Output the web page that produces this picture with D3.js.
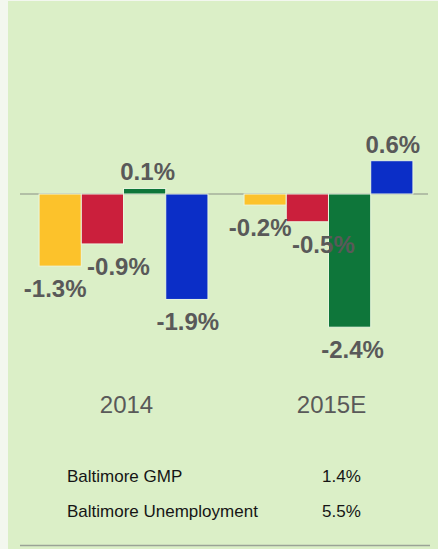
<!DOCTYPE html>
<html>
<head>
<meta charset="utf-8">
<script src="https://cdn.jsdelivr.net/npm/d3@7"></script>
<style>
  html, body { margin: 0; padding: 0; background: #f3f7ef; }
  svg { display: block; font-family: "Liberation Sans", Arial, sans-serif; }
</style>
</head>
<body>
<div id="chart"></div>
<script>
// chart data
var years = ["2014", "2015E"];
var series = ["s1", "s2", "s3", "s4"];
var values2014 = [-1.3, -0.9, 0.1, -1.9];
var values2015 = [-0.2, -0.5, -2.4, 0.6];
var colors = ["#fcc22b", "#cb1f3c", "#0e763a", "#0b2ec7"];
var tableLabels = ["Baltimore GMP", "Baltimore Unemployment"];
var tableValues = ["1.4%", "5.5%"];

var width = 438, height = 549;

var data = years.map(function(y, i) {
    var vals = i == 0 ? values2014 : values2015;
    return {year: y, vals: series.map(function(s, j) { return {key: s, value: vals[j], idx: j}; })};
});

// plain hyphen instead of d3's unicode minus
var fmt = d3.formatLocale({decimal: ".", thousands: ",", grouping: [3], currency: ["$", ""], minus: "-"}).format(".1f");

var svg = d3.select("#chart").append("svg")
    .attr("width", width)
    .attr("height", height);

// green panel
svg.append("rect")
    .attr("x", 8).attr("y", 1)
    .attr("width", width - 8).attr("height", height - 1)
    .attr("fill", "#dbefc7");

var x0 = d3.scaleBand()
    .domain(years)
    .range([20, 432])
    .paddingInner(0.176)
    .paddingOuter(0.093);

var x1 = d3.scaleBand()
    .domain(series)
    .range([0, x0.bandwidth()])
    .padding(0);

var y = d3.scaleLinear()
    .domain([-3, 1.5])
    .range([360.5, 110.75]);

// zero line
svg.append("line")
    .attr("x1", 20).attr("x2", 428)
    .attr("y1", y(0)).attr("y2", y(0))
    .attr("stroke", "#8a8f86")
    .attr("stroke-width", 1.2);

var group = svg.selectAll(".grp")
    .data(data)
  .enter().append("g")
    .attr("class", "grp")
    .attr("transform", function(d) { return "translate(" + x0(d.year) + ",0)"; });

group.selectAll("rect")
    .data(function(d) { return d.vals; })
  .enter().append("rect")
    .attr("x", function(d) { return x1(d.key); })
    .attr("width", x1.bandwidth())
    .attr("y", function(d) { return y(Math.max(0, d.value)); })
    .attr("height", function(d) { return Math.abs(y(d.value) - y(0)); })
    .attr("fill", function(d) { return colors[d.idx]; })
    .attr("stroke", "#e9f6df")
    .attr("stroke-width", 1);

// labels sit a little off the bar centre, like the hand-placed originals
var nudge = [-5, 16, 3, 1];
group.selectAll(".lbl")
    .data(function(d) { return d.vals; })
  .enter().append("text")
    .attr("class", "lbl")
    .attr("x", function(d) { return x1(d.key) + x1.bandwidth() / 2 + nudge[d.idx]; })
    .attr("y", function(d) { return d.value >= 0 ? y(d.value) - 8 : y(d.value) + 31; })
    .attr("text-anchor", "middle")
    .attr("font-size", "24px")
    .attr("font-weight", "bold")
    .attr("fill", "#595959")
    .text(function(d) { return fmt(d.value) + "%"; });

// year labels
svg.selectAll(".year")
    .data(years)
  .enter().append("text")
    .attr("class", "year")
    .attr("x", function(d) { return x0(d) + x0.bandwidth() / 2 + 3; })
    .attr("y", 413)
    .attr("text-anchor", "middle")
    .attr("font-size", "24px")
    .attr("fill", "#595959")
    .text(function(d) { return d; });

// small table
var rowY = d3.scalePoint().domain(tableLabels).range([482, 517]);
svg.selectAll(".tlab")
    .data(tableLabels)
  .enter().append("text")
    .attr("x", 67)
    .attr("y", function(d) { return rowY(d); })
    .attr("font-size", "17px")
    .attr("fill", "#151515")
    .text(function(d) { return d; });
svg.selectAll(".tval")
    .data(tableValues)
  .enter().append("text")
    .attr("x", 322)
    .attr("y", function(d, i) { return rowY(tableLabels[i]); })
    .attr("font-size", "17px")
    .attr("fill", "#151515")
    .text(function(d) { return d; });

// bottom rule
svg.append("line")
    .attr("x1", 20).attr("x2", 430)
    .attr("y1", 545.5).attr("y2", 545.5)
    .attr("stroke", "#9aa396")
    .attr("stroke-width", 1.5);
</script>
</body>
</html>
